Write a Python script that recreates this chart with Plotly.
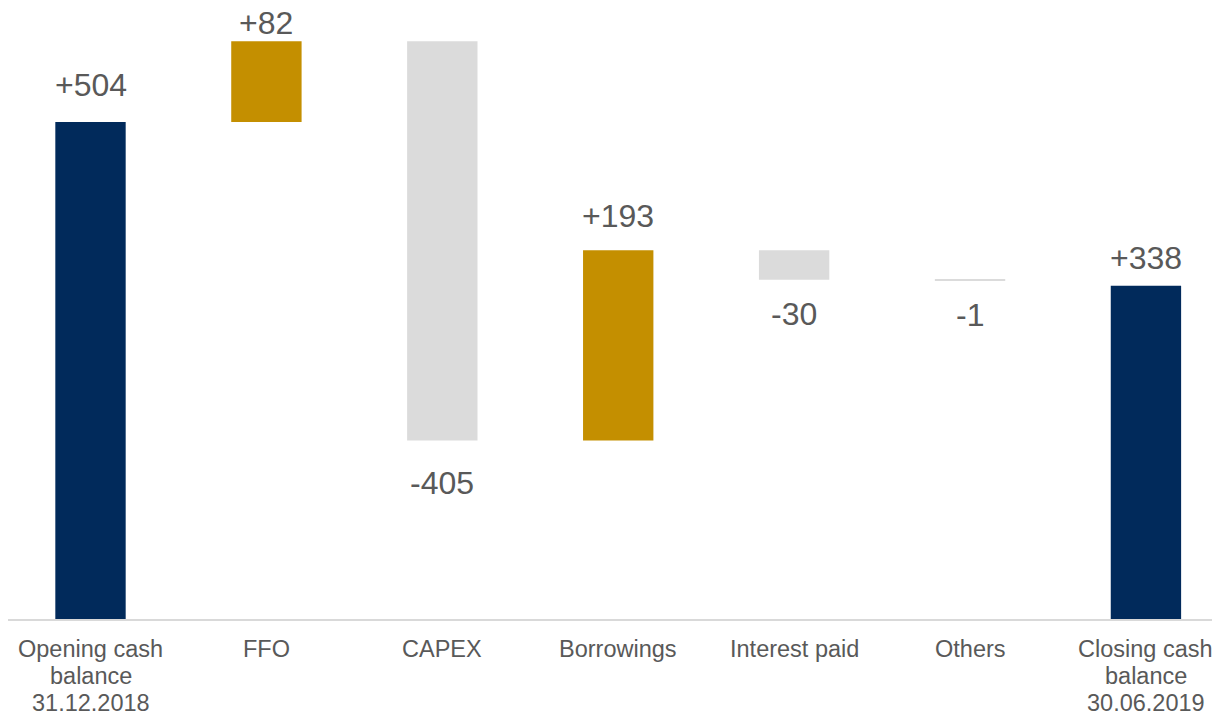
import plotly.graph_objects as go

categories = ["Opening cash<br>balance<br>31.12.2018", "FFO", "CAPEX", "Borrowings",
              "Interest paid", "Others", "Closing cash<br>balance<br>30.06.2019"]
values = [504, 82, -405, 193, -30, -1, 338]
measures = ["absolute", "relative", "relative", "relative", "relative", "relative", "absolute"]
labels = ["+504", "+82", "-405", "+193", "-30", "-1", "+338"]

# running total after each step (label anchor)
ends = []
run = 0
for v, m in zip(values, measures):
    run = v if m == "absolute" else run + v
    ends.append(run)

label_shift = [37, 18, -42, 34, -34, -34, 28]
line_shift = [-29.5, -56.5, -83.5]

NAVY = "#012A5B"
GOLD = "#C48F00"
GREY = "#DBDBDB"
TXT = "#595959"
FONT = "Liberation Sans, Arial, sans-serif"

fig = go.Figure(go.Waterfall(
    x=categories,
    y=values,
    measure=measures,
    width=0.4,
    increasing=dict(marker=dict(color=GOLD)),
    decreasing=dict(marker=dict(color=GREY)),
    totals=dict(marker=dict(color=NAVY)),
    connector=dict(visible=False),
    hoverinfo="skip",
))

for c, e, t, s in zip(categories, ends, labels, label_shift):
    fig.add_annotation(x=c, y=e, text=t, showarrow=False, yanchor="middle",
                       yshift=s, font=dict(size=32, color=TXT, family=FONT))

# category labels, one annotation per line
for c in categories:
    for i, line in enumerate(c.split("<br>")):
        fig.add_annotation(x=c, y=0, yref="paper", text=line, showarrow=False,
                           yanchor="middle", xanchor="center", yshift=line_shift[i],
                           font=dict(size=23.5, color=TXT, family=FONT))

fig.update_layout(
    width=1212, height=707,
    margin=dict(l=0, r=0, t=0, b=96),
    plot_bgcolor="white", paper_bgcolor="white",
    showlegend=False,
    font=dict(family=FONT, color=TXT),
    xaxis=dict(range=[-0.469, 6.421], showline=True, linecolor="#D9D9D9", linewidth=1.5,
               showgrid=False, zeroline=False, ticks="", showticklabels=False),
    yaxis=dict(range=[0, 619.7], visible=False, showgrid=False, zeroline=False),
)

fig.write_html("out.html")
